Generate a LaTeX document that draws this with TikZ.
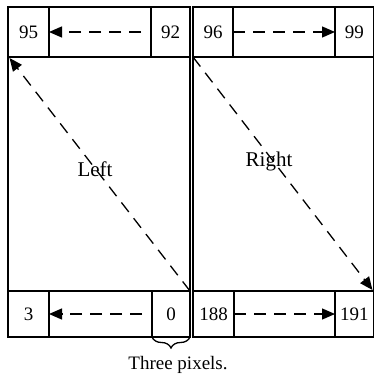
\documentclass[tikz,border=0pt]{standalone}
\usepackage{fontspec}
\setmainfont{Liberation Serif}
\usetikzlibrary{arrows.meta,decorations.pathreplacing}
\begin{document}
\begin{tikzpicture}[x=1pt,y=-1pt,
  cell/.style={draw,line width=1.4pt,inner sep=0pt,outer sep=0pt,font=\fontsize{19}{22}\selectfont},
  darrow/.style={line width=1.3pt,dash pattern=on 12pt off 8pt,-{Triangle[length=13pt,width=11pt]}},
  lbl/.style={font=\fontsize{21}{24}\selectfont,inner sep=0pt},
  captext/.style={font=\fontsize{19}{22}\selectfont,inner sep=0pt}]
\useasboundingbox (0,0) rectangle (374,382);
% left panel
\node[cell,minimum width=41pt,minimum height=50pt] (n95) at (28.5,32) {95};
\node[cell,minimum width=102pt,minimum height=50pt] (tlmid) at (100,32) {};
\node[cell,minimum width=39pt,minimum height=50pt] (n92) at (170.5,32) {92};
\node[cell,minimum width=182pt,minimum height=234pt] (bigL) at (99,174) {};
\node[cell,minimum width=41pt,minimum height=46pt] (n3) at (28.5,314) {3};
\node[cell,minimum width=103pt,minimum height=46pt] (blmid) at (100.5,314) {};
\node[cell,minimum width=38pt,minimum height=46pt] (n0) at (171,314) {0};
% right panel
\node[cell,minimum width=40pt,minimum height=50pt] (n96) at (213,32) {96};
\node[cell,minimum width=102pt,minimum height=50pt] (trmid) at (284,32) {};
\node[cell,minimum width=38.5pt,minimum height=50pt] (n99) at (354.25,32) {99};
\node[cell,minimum width=180.5pt,minimum height=234pt] (bigR) at (283.25,174) {};
\node[cell,minimum width=41pt,minimum height=46pt] (n188) at (213.5,314) {188};
\node[cell,minimum width=101pt,minimum height=46pt] (brmid) at (284.5,314) {};
\node[cell,minimum width=38.5pt,minimum height=46pt] (n191) at (354.25,314) {191};
% horizontal arrows
\draw[darrow] ([xshift=-10pt]tlmid.east) -- (tlmid.west);
\draw[darrow] (trmid.west) -- (trmid.east);
\draw[darrow] ([xshift=-10pt]blmid.east) -- (blmid.west);
\draw[darrow] (brmid.west) -- (brmid.east);
% diagonal arrows
\draw[darrow] (bigL.south east) -- ([shift={(1.5pt,-1pt)}]bigL.north west);
\draw[darrow] (bigR.north west) -- ([shift={(-1pt,1pt)}]bigR.south east);
% labels
\node[lbl] (left) at (95,169) {Left};
\node[lbl] (right) at (269,161) {Right};
% brace
\draw[line width=1.3pt,decorate,decoration={brace,mirror,amplitude=11pt}] (n0.south west) -- (n0.south east);
\node[captext] (three) at (178,365) {Three pixels.};
\end{tikzpicture}
\end{document}
